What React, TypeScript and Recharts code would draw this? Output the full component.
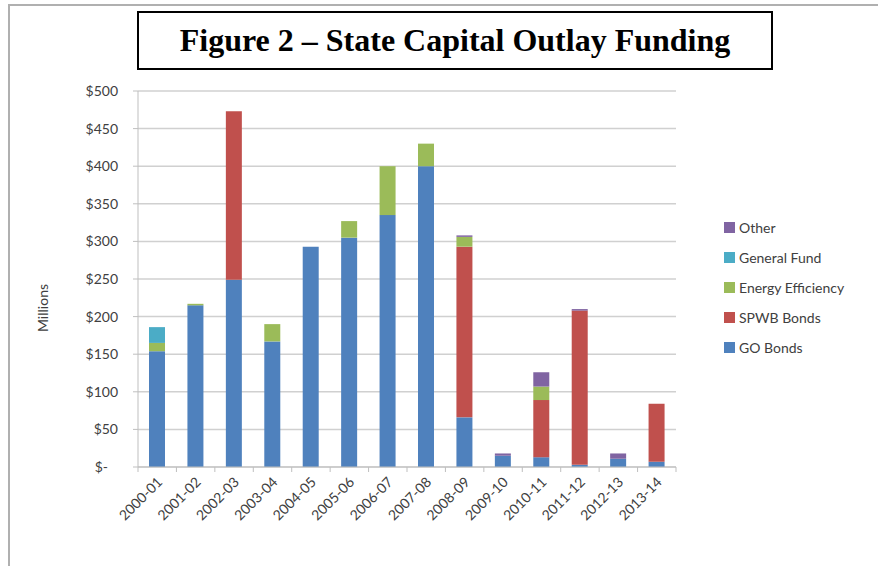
import { BarChart, Bar, XAxis, YAxis, CartesianGrid } from 'recharts';

const years = [
  '2000-01', '2001-02', '2002-03', '2003-04', '2004-05', '2005-06', '2006-07',
  '2007-08', '2008-09', '2009-10', '2010-11', '2011-12', '2012-13', '2013-14',
];
const goBonds = [154, 215, 249, 167, 293, 305, 335, 400, 66, 15, 13, 3, 11, 7];
const spwbBonds = [0, 0, 224, 0, 0, 0, 0, 0, 227, 0, 76, 205, 0, 77];
const energyEfficiency = [11, 2, 0, 23, 0, 22, 65, 30, 13, 0, 18, 0, 0, 0];
const generalFund = [21, 0, 0, 0, 0, 0, 0, 0, 0, 0, 0, 0, 0, 0];
const other = [0, 0, 0, 0, 0, 0, 0, 0, 2, 3, 19, 2, 7, 0];
const yTicks = [0, 50, 100, 150, 200, 250, 300, 350, 400, 450, 500];

const series = [
  { key: 'go', name: 'GO Bonds', color: '#4F81BD' },
  { key: 'spwb', name: 'SPWB Bonds', color: '#C0504D' },
  { key: 'ee', name: 'Energy Efficiency', color: '#9BBB59' },
  { key: 'gf', name: 'General Fund', color: '#4BACC6' },
  { key: 'other', name: 'Other', color: '#8064A2' },
];

const data = years.map((year, i) => ({
  year,
  go: goBonds[i],
  spwb: spwbBonds[i],
  ee: energyEfficiency[i],
  gf: generalFund[i],
  other: other[i],
}));

const FONT = 'Lato, "Open Sans", sans-serif';
const HALF_BAND = 538 / 14 / 2;

const YTick = (props: any) => {
  const { x, y, payload } = props;
  const label = payload.value === 0 ? '$-' : `$${payload.value}`;
  return (
    <text
      x={payload.value === 0 ? x - 10 : x}
      y={y}
      dy="0.35em"
      textAnchor="end"
      fontSize={14}
      fontFamily={FONT}
      fill="#404040"
    >
      {label}
    </text>
  );
};

const XTick = (props: any) => {
  const { x, y, payload, index } = props;
  const tx = x + 6;
  const ty = y + 16;
  return (
    <g>
      <line x1={x - HALF_BAND} y1={y} x2={x - HALF_BAND} y2={y + 5} stroke="#bfbfbf" />
      {index === years.length - 1 && (
        <line x1={x + HALF_BAND} y1={y} x2={x + HALF_BAND} y2={y + 5} stroke="#bfbfbf" />
      )}
      <text
        x={tx}
        y={ty}
        textAnchor="end"
        fontSize={14}
        fontFamily={FONT}
        fill="#404040"
        transform={`rotate(-45, ${tx}, ${ty})`}
      >
        {payload.value}
      </text>
    </g>
  );
};

const LegendBox = () => (
  <div
    style={{
      position: 'absolute', left: 724, top: 212, fontFamily: FONT, fontSize: 14, color: '#404040',
    }}
  >
    {[...series].reverse().map((s) => (
      <div key={s.key} style={{ display: 'flex', alignItems: 'center', height: 30 }}>
        <span style={{ width: 11, height: 11, background: s.color, marginRight: 4 }} />
        <span>{s.name}</span>
      </div>
    ))}
  </div>
);

export default function App() {
  return (
    <div style={{ position: 'absolute', left: 0, top: 0, width: 878, height: 566, background: '#fff', overflow: 'hidden' }}>
      <div
        style={{
          position: 'absolute', left: 8, top: 4, width: 878, height: 570,
          borderTop: '2px solid #b0b0b0', borderLeft: '2px solid #b0b0b0',
        }}
      />
      <div
        style={{
          position: 'absolute', left: 137, top: 11, width: 632, height: 55,
          border: '2px solid #000', display: 'flex', alignItems: 'center', justifyContent: 'center',
          fontFamily: '"Liberation Serif", "Times New Roman", serif', fontWeight: 'bold', fontSize: 32,
          color: '#000',
        }}
      >
        Figure 2 – State Capital Outlay Funding
      </div>
      <div
        style={{
          position: 'absolute', left: 42, top: 308, transform: 'translate(-50%, -50%) rotate(-90deg)',
          fontFamily: FONT, fontSize: 14, color: '#404040',
        }}
      >
        Millions
      </div>
      <div style={{ position: 'absolute', left: 0, top: 0 }}>
        <BarChart
          width={878}
          height={566}
          data={data}
          margin={{ top: 91, right: 202, left: 0, bottom: 19 }}
        >
          <CartesianGrid vertical={false} stroke="#d0d0d0" strokeWidth={1.5} />
          <YAxis
            width={138}
            domain={[0, 500]}
            ticks={yTicks}
            interval={0}
            tick={<YTick />}
            tickSize={5}
            tickMargin={15}
            axisLine={{ stroke: '#bfbfbf' }}
            tickLine={{ stroke: '#bfbfbf' }}
          />
          <XAxis
            dataKey="year"
            height={80}
            interval={0}
            tick={<XTick />}
            tickSize={0}
            tickMargin={0}
            tickLine={false}
            axisLine={{ stroke: '#bfbfbf' }}
          />
          {series.map((s) => (
            <Bar
              key={s.key}
              dataKey={s.key}
              name={s.name}
              stackId="a"
              fill={s.color}
              barSize={16}
              isAnimationActive={false}
            />
          ))}
        </BarChart>
      </div>
      <LegendBox />
    </div>
  );
}
